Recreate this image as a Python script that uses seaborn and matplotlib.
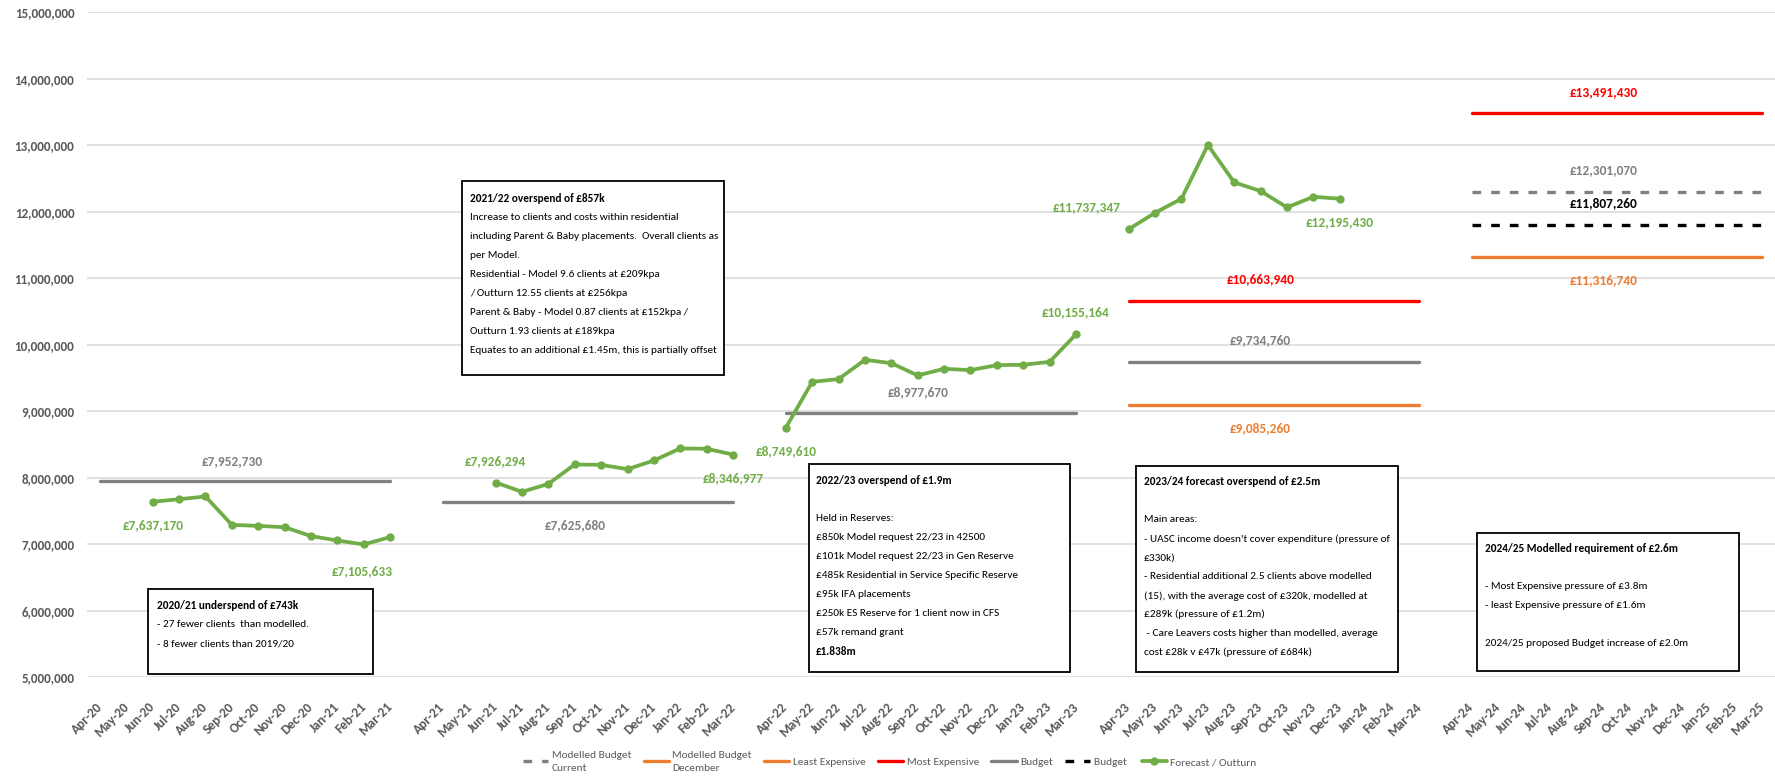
import numpy as np
import pandas as pd
import seaborn as sns
import matplotlib.pyplot as plt
from matplotlib import font_manager
from matplotlib.lines import Line2D
from matplotlib.patches import Rectangle

# Month categories, one blank slot between financial years
months = ['Apr', 'May', 'Jun', 'Jul', 'Aug', 'Sep', 'Oct', 'Nov', 'Dec', 'Jan', 'Feb', 'Mar']
fy_years = [20, 21, 22, 23, 24]
fy_names = ['2020/21', '2021/22', '2022/23', '2023/24', '2024/25']

# Forecast / Outturn per financial year (NaN = no value)
nan = np.nan
outturn_2020 = [nan, nan, 7637170, 7675000, 7716000, 7289000, 7274000, 7254000, 7120000, 7054000, 6994000, 7105633]
outturn_2021 = [nan, nan, 7926294, 7786000, 7906000, 8198000, 8192000, 8127000, 8258000, 8439000, 8434000, 8346977]
outturn_2022 = [8749610, 9441000, 9482000, 9772000, 9722000, 9537000, 9637000, 9617000, 9692000, 9697000, 9742000, 10155164]
outturn_2023 = [11737347, 11984000, 12195000, 13003000, 12441000, 12311000, 12065000, 12225000, 12195430, nan, nan, nan]
outturn_2024 = [nan] * 12
outturn_labelled = ['Jun-20', 'Mar-21', 'Jun-21', 'Mar-22', 'Apr-22', 'Mar-23', 'Apr-23', 'Dec-23']

# Flat annual lines: financial year -> value
budget = {'2020/21': 7952730, '2021/22': 7625680, '2022/23': 8977670, '2023/24': 9734760}
most_expensive = {'2023/24': 10663940, '2024/25': 13491430}
least_expensive = {'2024/25': 11316740}
modelled_december = {'2023/24': 9085260}
modelled_current = {'2024/25': 12301070}
budget_proposed = {'2024/25': 11807260}

GREEN = '#70AD47'
GRAY = '#808080'
RED = '#FF0000'
ORANGE = '#ED7D31'
TXT = '#595959'

sns.set_style('white')
available = {f.name for f in font_manager.fontManager.ttflist}
family = 'Liberation Sans'
for cand in ['Carlito', 'Liberation Sans Narrow', 'IBM Plex Sans Condensed']:
    if cand in available:
        family = cand
        break
plt.rcParams['font.family'] = [family, 'DejaVu Sans']

# build category axis
labels = []
fy_start = {}
for i, yy in enumerate(fy_years):
    fy_start[fy_names[i]] = len(labels)
    for m in months:
        labels.append(f'{m}-{yy + 1 if m in ("Jan", "Feb", "Mar") else yy}')
    if i < len(fy_years) - 1:
        labels.append('')
pos = {lab: k for k, lab in enumerate(labels) if lab}

outturn = pd.DataFrame([
    {'fy': fy, 'idx': fy_start[fy] + k, 'value': v}
    for fy, vals in zip(fy_names, [outturn_2020, outturn_2021, outturn_2022, outturn_2023, outturn_2024])
    for k, v in enumerate(vals) if not np.isnan(v)
])

DASH = (0, (2.6, 3.0))
flat_series = [
    ('Modelled Budget\nCurrent', modelled_current, GRAY, DASH),
    ('Modelled Budget\nDecember', modelled_december, ORANGE, '-'),
    ('Least Expensive', least_expensive, ORANGE, '-'),
    ('Most Expensive', most_expensive, RED, '-'),
    ('Budget', budget, GRAY, '-'),
    ('Budget ', budget_proposed, 'black', DASH),
]

fig = plt.figure(figsize=(17.75, 7.79), dpi=100)
ax = fig.add_axes([0.0489, 0.1309, 0.9511, 0.8533])

for name, d, col, ls in flat_series:
    rows = [{'fy': fy, 'idx': fy_start[fy] + k, 'value': v} for fy, v in d.items() for k in range(12)]
    sub = pd.DataFrame(rows)
    sns.lineplot(data=sub, x='idx', y='value', units='fy', estimator=None, ax=ax,
                 color=col, linewidth=2.4, linestyle=ls, legend=False, zorder=4)

sns.lineplot(data=outturn, x='idx', y='value', units='fy', estimator=None, ax=ax,
             color=GREEN, linewidth=2.7, marker='o', markersize=6, markeredgewidth=0,
             legend=False, zorder=5)

# value labels on the flat lines (6th month of each year)
flat_label_style = [
    (budget, GRAY, {'2020/21': 20, '2021/22': -23, '2022/23': 21, '2023/24': 22}),
    (most_expensive, RED, {'2023/24': 21, '2024/25': 21}),
    (modelled_december, ORANGE, {'2023/24': -23}),
    (least_expensive, ORANGE, {'2024/25': -23}),
    (modelled_current, GRAY, {'2024/25': 22}),
    (budget_proposed, 'black', {'2024/25': 21}),
]
LBL = 9.6
for d, col, offs in flat_label_style:
    for fy, v in d.items():
        ax.annotate(f'£{v:,.0f}', (fy_start[fy] + 5, v), xytext=(0, offs[fy]),
                    textcoords='offset pixels', ha='center', va='center',
                    color=col, fontsize=LBL, fontweight='bold', zorder=6)

# value labels on the forecast line
green_offs = {'Jun-20': (0, -23, 'center'), 'Mar-21': (3, -34, 'right'),
              'Jun-21': (0, 21, 'center'), 'Mar-22': (0, -23, 'center'),
              'Apr-22': (0, -23, 'center'), 'Mar-23': (0, 22, 'center'),
              'Apr-23': (-8, 22, 'right'), 'Dec-23': (0, -23, 'center')}
for lab in outturn_labelled:
    row = outturn[outturn.idx == pos[lab]].iloc[0]
    dx, dy, ha = green_offs[lab]
    ax.annotate(f'£{row.value:,.0f}', (row.idx, row.value), xytext=(dx, dy),
                textcoords='offset pixels', ha=ha, va='center',
                color=GREEN, fontsize=LBL, fontweight='bold', zorder=6)

# commentary boxes
boxes = [
    ((1.83, 10.35, 6.321e6, 5.042e6), 2.16, 6.070e6, [
        ('2020/21 underspend of £743k', True),
        ('- 27 fewer clients  than modelled.', False),
        ('- 8 fewer clients than 2019/20', False)]),
    ((13.74, 23.64, 12.461e6, 9.542e6), 14.04, 12.201e6, [
        ('2021/22 overspend of £857k', True),
        ('Increase to clients and costs within residential', False),
        ('including Parent & Baby placements.  Overall clients as', False),
        ('per Model.', False),
        ('Residential - Model 9.6 clients at £209kpa', False),
        ('/ Outturn 12.55 clients at £256kpa', False),
        ('Parent & Baby - Model 0.87 clients at £152kpa /', False),
        ('Outturn 1.93 clients at £189kpa', False),
        ('Equates to an additional £1.45m, this is partially offset', False)]),
    ((26.86, 36.77, 8.202e6, 5.077e6), 27.15, 7.951e6, [
        ('2022/23 overspend of £1.9m', True),
        ('', False),
        ('Held in Reserves:', False),
        ('£850k Model request 22/23 in 42500', False),
        ('£101k Model request 22/23 in Gen Reserve', False),
        ('£485k Residential in Service Specific Reserve', False),
        ('£95k IFA placements', False),
        ('£250k ES Reserve for 1 client now in CFS', False),
        ('£57k remand grant', False),
        ('£1.838m', True)]),
    ((39.28, 49.20, 8.178e6, 5.077e6), 39.58, 7.936e6, [
        ('2023/24 forecast overspend of £2.5m', True),
        ('', False),
        ('Main areas:', False),
        ("- UASC income doesn't cover expenditure (pressure of", False),
        ('£330k)', False),
        ('- Residential additional 2.5 clients above modelled', False),
        ('(15), with the average cost of £320k, modelled at', False),
        ('£289k (pressure of £1.2m)', False),
        (' - Care Leavers costs higher than modelled, average', False),
        ('cost £28k v £47k (pressure of £684k)', False)]),
    ((52.22, 62.15, 7.169e6, 5.087e6), 52.5, 6.934e6, [
        ('2024/25 Modelled requirement of £2.6m', True),
        ('', False),
        ('- Most Expensive pressure of £3.8m', False),
        ('- least Expensive pressure of £1.6m', False),
        ('', False),
        ('2024/25 proposed Budget increase of £2.0m', False)]),
]
step = 0.2855e6
for (x0, x1, yt, yb), tx, ty, lines in boxes:
    ax.add_patch(Rectangle((x0, yb), x1 - x0, yt - yb, facecolor='white',
                           edgecolor='black', linewidth=1.3, zorder=3))
    for k, (t, bold) in enumerate(lines):
        if t:
            ax.text(tx, ty - k * step, t, ha='left', va='center', fontsize=8.1,
                    fontweight='bold' if bold else 'normal', color='black', zorder=4)

ax.set_xlim(-0.5, len(labels) - 0.5)
ax.set_ylim(5e6, 15e6)
ax.set_yticks(np.arange(5e6, 15.1e6, 1e6))
ax.set_yticklabels([f'{int(v):,}' for v in np.arange(5e6, 15.1e6, 1e6)])
ax.set_xticks(range(len(labels)))
ax.set_xticklabels(labels)
ax.tick_params(axis='both', length=0, colors=TXT)
ax.tick_params(axis='y', pad=9, labelsize=9.4)
ax.tick_params(axis='x', pad=20, labelsize=9.6)
for t in ax.get_xticklabels():
    t.set_rotation(45)
    t.set_ha('right')
    t.set_va('center')
    t.set_rotation_mode('anchor')
    t.set_fontweight('bold')
for t in ax.get_yticklabels():
    t.set_fontweight('bold')
ax.set_xlabel('')
ax.set_ylabel('')
ax.yaxis.grid(True, color='#D9D9D9', linewidth=1.1)
ax.set_axisbelow(True)
sns.despine(ax=ax, left=True, bottom=True)

handles = []
for name, d, col, ls in flat_series:
    handles.append(Line2D([], [], color=col, linewidth=2.4, linestyle=ls, label=name))
handles.append(Line2D([], [], color=GREEN, linewidth=2.7, marker='o', markersize=6,
                      markeredgewidth=0, label='Forecast / Outturn'))
leg = fig.legend(handles=handles, loc='center', bbox_to_anchor=(0.5014, 0.022), ncol=7,
                 frameon=False, fontsize=8.2, handlelength=2.2, handletextpad=0.3,
                 columnspacing=1.1)
for t in leg.get_texts():
    t.set_color(TXT)
    t.set_linespacing(1.6)

fig.savefig('out.png', dpi=100)
